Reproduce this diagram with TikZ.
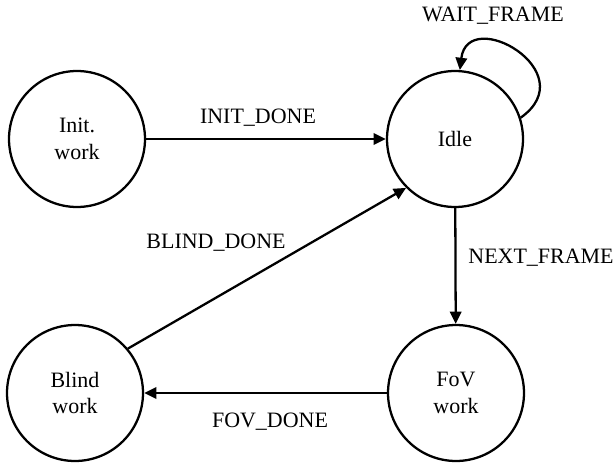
\documentclass[tikz,border=0pt]{standalone}
\usepackage{fontspec}
\setmainfont{Liberation Serif}
\usetikzlibrary{arrows.meta}
\tikzset{
  state/.style={draw,circle,line width=1.3pt,minimum size=2.72cm,inner sep=0pt,align=center,font=\fontsize{12.5}{15}\selectfont},
  trans/.style={line width=1.3pt,-{Triangle[length=7pt,width=6.5pt]}},
  lbl/.style={font=\fontsize{12.5}{15}\selectfont,inner sep=0pt}
}
\begin{document}
\begin{tikzpicture}[x=0.02cm,y=-0.02cm]
	\useasboundingbox (0,0) rectangle (615,463);

	\node[state] (init) at (77,139) {Init.\\work};
	\node[state] (idle) at (455,139) {Idle};
	\node[state] (blind) at (75,393) {Blind\\work};
	\node[state] (fov) at (456,393) {FoV\\work};

	\draw [trans] (init) -- (idle);
	\draw [trans] (idle.18) .. controls (585,72) and (468,5) .. (idle.86);
	\draw [trans] (idle) -- (fov);
	\draw [trans] (fov) -- (blind);
	\draw [trans] (blind.40) -- (idle.225);

	\node[lbl] (initdone) at (258,118) {INIT\_DONE};
	\node[lbl] (waitframe) at (493,16) {WAIT\_FRAME};
	\node[lbl] (nextframe) at (541,258) {NEXT\_FRAME};
	\node[lbl] (fovdone) at (270,422) {FOV\_DONE};
	\node[lbl] (blinddone) at (216,243) {BLIND\_DONE};
\end{tikzpicture}
\end{document}
